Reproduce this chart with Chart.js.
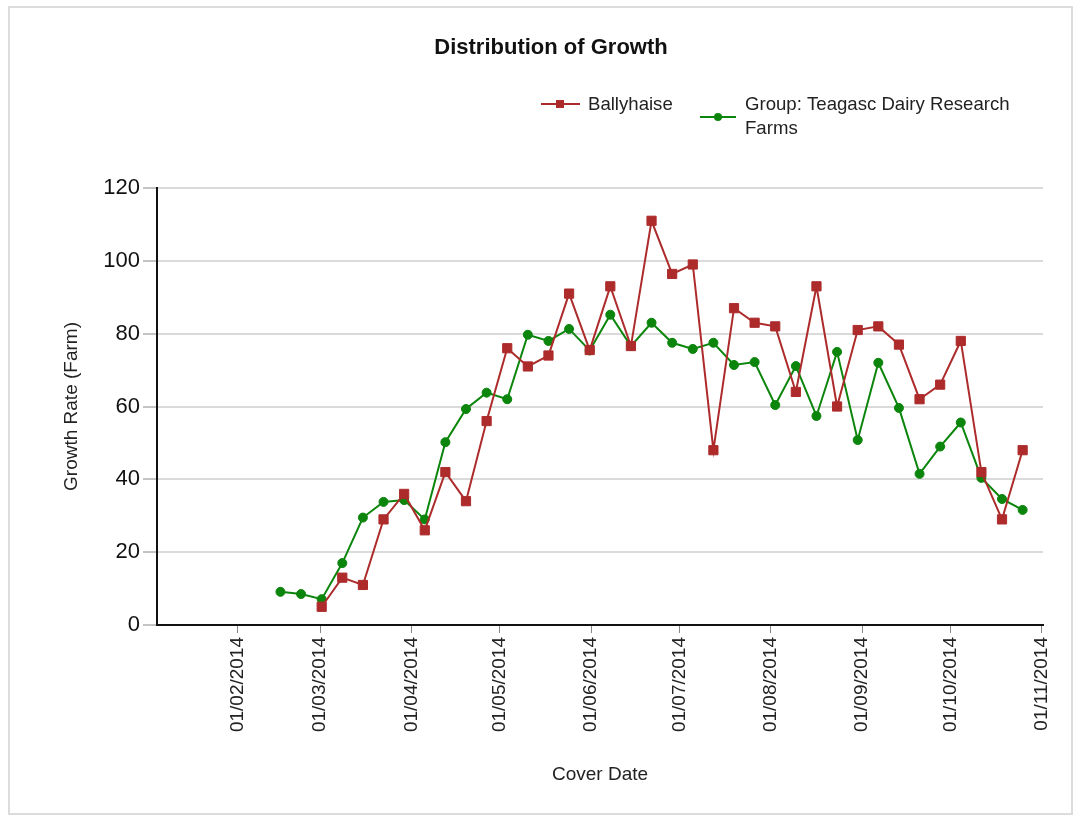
<!DOCTYPE html>
<html>
<head>
<meta charset="utf-8">
<title>Distribution of Growth</title>
<script src="https://cdn.jsdelivr.net/npm/chart.js"></script>
<style>
  html, body { margin: 0; padding: 0; background: #fff; }
  #wrap { position: relative; width: 1080px; height: 819px; }
</style>
</head>
<body>
<div id="wrap"><canvas id="growth-chart" width="1080" height="819"></canvas></div>
<script>
  // weekly cover dates
  const coverDates = [
    "2014-02-15", "2014-02-22", "2014-03-01", "2014-03-08", "2014-03-15", "2014-03-22",
    "2014-03-29", "2014-04-05", "2014-04-12", "2014-04-19", "2014-04-26", "2014-05-03",
    "2014-05-10", "2014-05-17", "2014-05-24", "2014-05-31", "2014-06-07", "2014-06-14",
    "2014-06-21", "2014-06-28", "2014-07-05", "2014-07-12", "2014-07-19", "2014-07-26",
    "2014-08-02", "2014-08-09", "2014-08-16", "2014-08-23", "2014-08-30", "2014-09-06",
    "2014-09-13", "2014-09-20", "2014-09-27", "2014-10-04", "2014-10-11", "2014-10-18",
    "2014-10-25"
  ];
  // Ballyhaise starts on 01/03
  const ballyhaise = [
    null, null,
    5, 13, 11, 29, 36, 26, 42, 34, 56, 76,
    71, 74, 91, 75.5, 93, 76.6, 111, 96.4, 99, 48,
    87, 83, 82, 64, 93, 60, 81, 82, 77, 62,
    66, 78, 42, 29, 48
  ];
  const groupFarms = [
    9.1, 8.5, 7.1, 17, 29.5, 33.8, 34.3, 29, 50.2, 59.3,
    63.8, 62, 79.7, 78, 81.3, 75.4, 85.2, 76.6, 83, 77.5,
    75.8, 77.5, 71.4, 72.2, 60.4, 71.1, 57.4, 75, 50.8, 72,
    59.6, 41.5, 49, 55.6, 40.4, 34.6, 31.6
  ];
  const monthTicks = [
    "2014-02-01", "2014-03-01", "2014-04-01", "2014-05-01", "2014-06-01",
    "2014-07-01", "2014-08-01", "2014-09-01", "2014-10-01", "2014-11-01"
  ];

  const RED = "#ad2b2b";
  const GREEN = "#0b850b";
  const FONT = "'Liberation Sans', Arial, sans-serif";

  const toMs = (d) => Date.parse(d + "T12:00:00Z");
  const monthTickMs = monthTicks.map((d) => Date.parse(d + "T00:00:00Z"));

  const fmtDate = (ms) => {
    const d = new Date(ms);
    const dd = String(d.getUTCDate()).padStart(2, "0");
    const mm = String(d.getUTCMonth() + 1).padStart(2, "0");
    return dd + "/" + mm + "/" + d.getUTCFullYear();
  };

  const toPoints = (vals) =>
    coverDates.map((d, i) => ({ x: toMs(d), y: vals[i] })).filter((p) => p.y !== null);

  // frame round the whole picture + two-line legend
  const decorPlugin = {
    id: "decor",
    beforeDraw(chart) {
      const ctx = chart.ctx;
      ctx.save();
      ctx.fillStyle = "#fff";
      ctx.fillRect(0, 0, chart.width, chart.height);
      ctx.strokeStyle = "#dcdcdc";
      ctx.lineWidth = 2;
      ctx.strokeRect(9, 7, 1063, 807);
      ctx.restore();
    },
    afterDraw(chart) {
      const ctx = chart.ctx;
      ctx.save();
      ctx.font = "18.6px " + FONT;
      ctx.fillStyle = "#222";
      ctx.textBaseline = "middle";
      ctx.lineWidth = 2;

      // Ballyhaise
      ctx.strokeStyle = RED;
      ctx.beginPath();
      ctx.moveTo(541, 104);
      ctx.lineTo(580, 104);
      ctx.stroke();
      ctx.fillStyle = RED;
      ctx.fillRect(556, 100, 8, 8);
      ctx.fillStyle = "#222";
      ctx.fillText(chart.data.datasets[0].label, 588, 105);

      // Group
      ctx.strokeStyle = GREEN;
      ctx.beginPath();
      ctx.moveTo(700, 117);
      ctx.lineTo(736, 117);
      ctx.stroke();
      ctx.fillStyle = GREEN;
      ctx.beginPath();
      ctx.arc(718, 117, 4, 0, Math.PI * 2);
      ctx.fill();
      ctx.fillStyle = "#222";
      ctx.fillText("Group: Teagasc Dairy Research", 745, 105);
      ctx.fillText("Farms", 745, 129);
      ctx.restore();
    }
  };

  const ctx = document.getElementById("growth-chart").getContext("2d");
  const growthChart = new Chart(ctx, {
    type: "line",
    data: {
      datasets: [
        {
          label: "Ballyhaise",
          data: toPoints(ballyhaise),
          borderColor: RED,
          backgroundColor: RED,
          borderWidth: 2,
          pointStyle: "rect",
          pointRadius: 6.5,
          pointBorderWidth: 1,
          fill: false,
          tension: 0,
        },
        {
          label: "Group: Teagasc Dairy Research Farms",
          data: toPoints(groupFarms),
          borderColor: GREEN,
          backgroundColor: GREEN,
          borderWidth: 2,
          pointStyle: "circle",
          pointRadius: 4.5,
          pointBorderWidth: 1,
          fill: false,
          tension: 0,
        },
      ],
    },
    options: {
      responsive: false,
      animation: false,
      layout: { padding: { top: 0, left: 59, right: 37, bottom: 0 } },
      plugins: {
        legend: { display: false },
        tooltip: { enabled: false },
        title: {
          display: true,
          text: "Distribution of Growth",
          color: "#111",
          font: { family: FONT, size: 22, weight: "bold" },
          padding: { top: 35, bottom: 126.6 },
        },
      },
      scales: {
        x: {
          type: "linear",
          min: Date.UTC(2014, 0, 4, 14),
          max: Date.UTC(2014, 10, 1, 10),
          afterBuildTicks: (scale) => {
            scale.ticks = monthTickMs.map((v) => ({ value: v }));
          },
          afterFit: (scale) => { scale.height = 194; },
          grid: {
            drawOnChartArea: false,
            drawTicks: true,
            tickLength: 8,
            tickColor: "#888",
            tickWidth: 1,
          },
          border: { color: "#111", width: 2 },
          ticks: {
            autoSkip: false,
            minRotation: 90,
            maxRotation: 90,
            padding: 4,
            color: "#222",
            font: { family: FONT, size: 19 },
            callback: (v) => fmtDate(v),
          },
          title: {
            display: true,
            text: "Cover Date",
            color: "#222",
            font: { family: FONT, size: 19 },
            padding: { top: 0, bottom: 33 },
          },
        },
        y: {
          min: 0,
          max: 120,
          afterFit: (scale) => { scale.width = 98; },
          grid: {
            color: "#dadada",
            lineWidth: 2,
            tickLength: 14,
            tickColor: "#888",
            tickWidth: 1,
          },
          border: { color: "#111", width: 2 },
          ticks: {
            stepSize: 20,
            padding: 3,
            color: "#111",
            font: { family: FONT, size: 22 },
          },
          title: {
            display: true,
            text: "Growth Rate (Farm)",
            color: "#222",
            font: { family: FONT, size: 19 },
            padding: { top: 1, bottom: 0 },
          },
        },
      },
    },
    plugins: [decorPlugin],
  });
</script>
</body>
</html>
